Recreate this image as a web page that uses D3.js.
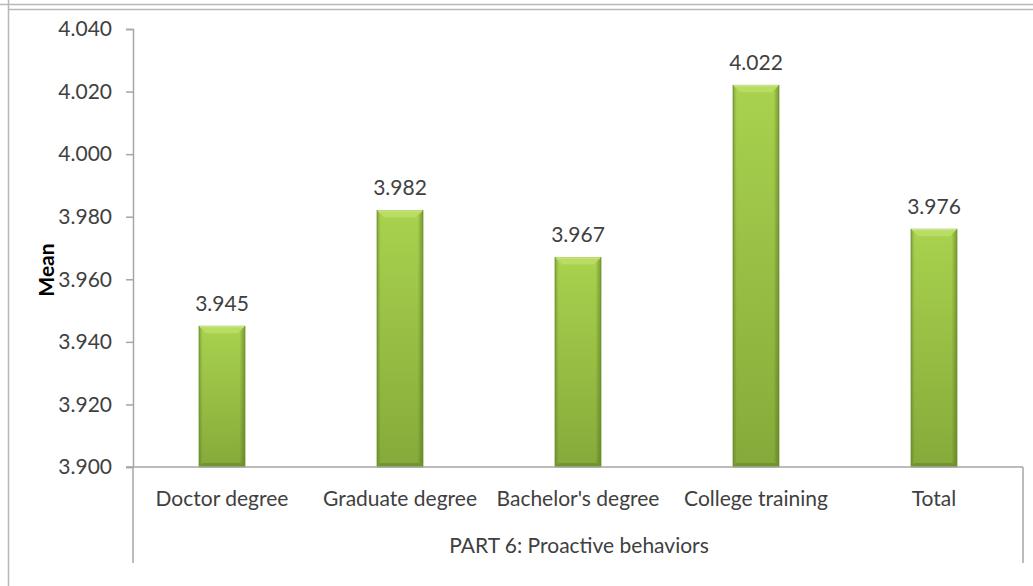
<!DOCTYPE html>
<html>
<head>
<meta charset="utf-8">
<script src="https://cdn.jsdelivr.net/npm/d3@7/dist/d3.min.js"></script>
<style>
  html, body { margin: 0; padding: 0; background: #fff; }
  svg { display: block; font-family: Lato, "Open Sans", sans-serif; }
</style>
</head>
<body>
<svg id="chart" width="1033" height="586"></svg>
<script>
// Mean scores by education level, Part 6
const categories = ["Doctor degree", "Graduate degree", "Bachelor's degree", "College training", "Total"];
const means = [3.945, 3.982, 3.967, 4.022, 3.976];
const yTicks = [3.900, 3.920, 3.940, 3.960, 3.980, 4.000, 4.020, 4.040];
const groupLabel = "PART 6: Proactive behaviors";
const yTitle = "Mean";

(function () {
const svg = d3.select("#chart");
const W = 1033, H = 586;
const plotL = 133, plotR = 1023, plotT = 29, plotB = 467;
const FS = "21px";

// Outer frame lines
svg.append("line").attr("x1", 0).attr("x2", W).attr("y1", 4.5).attr("y2", 4.5)
  .attr("stroke", "#b8b8b8").attr("stroke-width", 1.5);
svg.append("line").attr("x1", 9).attr("x2", W).attr("y1", 9.5).attr("y2", 9.5)
  .attr("stroke", "#b8b8b8").attr("stroke-width", 1.5);
svg.append("line").attr("x1", 8.5).attr("x2", 8.5).attr("y1", 0).attr("y2", H)
  .attr("stroke", "#b8b8b8").attr("stroke-width", 1.5);

const x = d3.scaleBand().domain(categories).range([plotL, plotR]).paddingInner(0.742).paddingOuter(0.371);
const y = d3.scaleLinear().domain([3.900, 4.040]).range([plotB, plotT]);

// Gradients for the bevelled bars
const defs = svg.append("defs");
const gVert = defs.append("linearGradient").attr("id", "vert").attr("x1", 0).attr("x2", 0).attr("y1", 0).attr("y2", 1);
gVert.append("stop").attr("offset", "0%").attr("stop-color", "#a9d24e");
gVert.append("stop").attr("offset", "100%").attr("stop-color", "#86aa3a");
const gSide = defs.append("linearGradient").attr("id", "side").attr("x1", 0).attr("x2", 1).attr("y1", 0).attr("y2", 0);
gSide.append("stop").attr("offset", "0%").attr("stop-color", "#3d5a10").attr("stop-opacity", 0.35);
gSide.append("stop").attr("offset", "8%").attr("stop-color", "#3d5a10").attr("stop-opacity", 0.0);
gSide.append("stop").attr("offset", "88%").attr("stop-color", "#3d5a10").attr("stop-opacity", 0.0);
gSide.append("stop").attr("offset", "100%").attr("stop-color", "#3d5a10").attr("stop-opacity", 0.45);

// Y axis
const yAxis = d3.axisLeft(y).tickValues(yTicks).tickFormat(d3.format(".3f")).tickSize(7).tickPadding(14);
const ya = svg.append("g").attr("transform", `translate(${plotL},0)`).call(yAxis);
ya.select(".domain").attr("stroke", "#a6a6a6").attr("stroke-width", 1.5);
ya.selectAll(".tick line").attr("stroke", "#a6a6a6").attr("stroke-width", 1.5);
ya.selectAll(".tick text").attr("fill", "#404040").style("font-size", FS).style("font-family", "Lato, sans-serif");

// Bars
const bw = x.bandwidth();
const bars = svg.append("g").selectAll("g").data(categories).join("g");
bars.append("rect")
  .attr("x", d => x(d)).attr("y", (d, i) => y(means[i]))
  .attr("width", bw).attr("height", (d, i) => plotB - y(means[i]))
  .attr("fill", "url(#vert)");
bars.append("rect")
  .attr("x", d => x(d)).attr("y", (d, i) => y(means[i]))
  .attr("width", bw).attr("height", (d, i) => plotB - y(means[i]))
  .attr("fill", "url(#side)").attr("stroke", "#6a8e2c").attr("stroke-width", 0.8);
// Top bevel
bars.append("path")
  .attr("d", (d, i) => {
    const x0 = x(d), x1 = x(d) + bw, yt = y(means[i]), b = 7;
    return `M${x0},${yt} L${x1},${yt} L${x1 - b},${yt + b} L${x0 + b},${yt + b} Z`;
  })
  .attr("fill", "#b9dc62");
bars.append("line")
  .attr("x1", d => x(d) + 1).attr("x2", d => x(d) + bw - 1)
  .attr("y1", (d, i) => y(means[i]) + 0.5).attr("y2", (d, i) => y(means[i]) + 0.5)
  .attr("stroke", "#d2ec8c").attr("stroke-width", 1);
// Bottom bevel
bars.append("path")
  .attr("d", d => {
    const x0 = x(d), x1 = x(d) + bw, b = 4;
    return `M${x0},${plotB} L${x1},${plotB} L${x1 - b},${plotB - b} L${x0 + b},${plotB - b} Z`;
  })
  .attr("fill", "#6f9430");

// Value labels
svg.append("g").selectAll("text").data(categories).join("text")
  .attr("x", d => x(d) + bw / 2).attr("y", (d, i) => y(means[i]) - 15)
  .attr("text-anchor", "middle").attr("fill", "#404040").style("font-size", FS)
  .text((d, i) => d3.format(".3f")(means[i]));

// X axis (category line with group boundaries)
svg.append("line").attr("x1", plotL - 7).attr("x2", plotR).attr("y1", plotB).attr("y2", plotB)
  .attr("stroke", "#a6a6a6").attr("stroke-width", 1.5);
svg.append("line").attr("x1", plotL).attr("x2", plotL).attr("y1", plotB).attr("y2", 563)
  .attr("stroke", "#a6a6a6").attr("stroke-width", 1.5);
svg.append("line").attr("x1", plotR).attr("x2", plotR).attr("y1", plotB).attr("y2", 563)
  .attr("stroke", "#a6a6a6").attr("stroke-width", 1.5);

svg.append("g").selectAll("text").data(categories).join("text")
  .attr("x", d => x(d) + bw / 2).attr("y", 506)
  .attr("text-anchor", "middle").attr("fill", "#404040").style("font-size", FS)
  .text(d => d);

svg.append("text").attr("x", (plotL + plotR) / 2 + 1).attr("y", 553)
  .attr("text-anchor", "middle").attr("fill", "#404040").style("font-size", FS)
  .text(groupLabel);

// Y title
svg.append("text").attr("transform", "translate(54,270) rotate(-90)")
  .attr("text-anchor", "middle").attr("fill", "#000").style("font-size", FS).style("font-weight", "bold")
  .text(yTitle);
})();
</script>
</body>
</html>
